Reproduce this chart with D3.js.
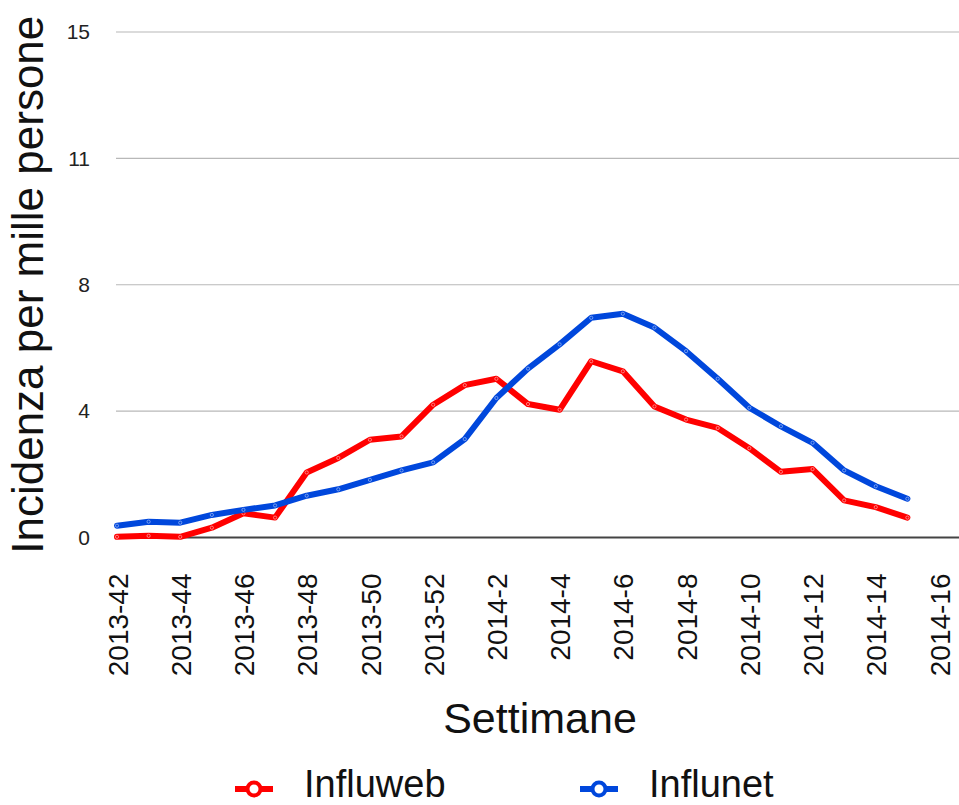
<!DOCTYPE html>
<html>
<head>
<meta charset="utf-8">
<script src="https://cdn.jsdelivr.net/npm/d3@7"></script>
<style>
	body { margin: 0; background: #fff; }
	svg { display: block; font-family: 'Liberation Sans', Arial, Helvetica, sans-serif; }
</style>
</head>
<body>
<svg id="chart" width="959" height="805"></svg>
<script>
'use strict'

var weeks = ['2013-42','2013-43','2013-44','2013-45','2013-46','2013-47','2013-48','2013-49','2013-50','2013-51','2013-52',
	'2014-1','2014-2','2014-3','2014-4','2014-5','2014-6','2014-7','2014-8','2014-9','2014-10','2014-11','2014-12',
	'2014-13','2014-14','2014-15','2014-16'];

var tickLabels = ['2013-42','2013-44','2013-46','2013-48','2013-50','2013-52','2014-2','2014-4','2014-6','2014-8',
	'2014-10','2014-12','2014-14','2014-16'];

var yTicks = [0, 3.75, 7.5, 11.25, 15];

var influweb = [0.02, 0.05, 0.02, 0.29, 0.72, 0.59, 1.93, 2.36, 2.90, 3.00, 3.94,
	4.52, 4.71, 3.96, 3.79, 5.23, 4.93, 3.89, 3.50, 3.25, 2.65, 1.95, 2.03, 1.10, 0.90, 0.59];

var influnet = [0.35, 0.47, 0.44, 0.67, 0.82, 0.95, 1.24, 1.43, 1.71, 1.99, 2.23,
	2.92, 4.14, 5.01, 5.73, 6.52, 6.64, 6.23, 5.53, 4.71, 3.85, 3.30, 2.81, 1.99, 1.52, 1.15];

var series = [
	{ name: 'Influweb', values: influweb, color: '#ff0000', light: '#ff9a9a' },
	{ name: 'Influnet', values: influnet, color: '#0047dc', light: '#8fb0f5' }
];

var svg = d3.select('#chart');
var plot = { left: 116, right: 959, top: 32, bottom: 537.5 };

var xScale = d3.scalePoint()
	.domain(weeks)
	.range([117, 939]);

var yScale = d3.scaleLinear()
	.domain([0, 15])
	.range([plot.bottom, plot.top]);

// gridlines
svg.append('g')
	.selectAll('line')
	.data(yTicks.slice(1))
	.enter()
	.append('line')
	.attr('x1', plot.left)
	.attr('x2', plot.right)
	.attr('y1', function(d){ return yScale(d); })
	.attr('y2', function(d){ return yScale(d); })
	.attr('stroke', '#b8b8b8')
	.attr('stroke-width', 1.2);

// y axis labels
var yAxis = d3.axisLeft(yScale)
	.tickValues(yTicks)
	.tickSize(0)
	.tickPadding(0)
	.tickFormat(function(d){ return Math.round(d); });

svg.append('g')
	.attr('transform', 'translate(90,0)')
	.call(yAxis)
	.call(function(g){ g.select('.domain').remove(); })
	.selectAll('text')
	.attr('font-size', 21)
	.attr('font-family', null)
	.attr('fill', '#222');

// x axis
var xAxis = d3.axisBottom(xScale)
	.tickValues(tickLabels)
	.tickSize(0)
	.tickPadding(0);

var gx = svg.append('g')
	.attr('transform', `translate(0, ${plot.bottom})`)
	.call(xAxis);
gx.select('.domain').remove();
gx.selectAll('text')
	.attr('font-size', 28)
	.attr('font-family', null)
	.attr('fill', '#111')
	.attr('text-anchor', 'end')
	.attr('transform', 'rotate(-90)')
	.attr('x', -36)
	.attr('y', 0)
	.attr('dy', '0.36em');

// baseline
svg.append('line')
	.attr('x1', plot.left)
	.attr('x2', plot.right)
	.attr('y1', yScale(0))
	.attr('y2', yScale(0))
	.attr('stroke', '#444')
	.attr('stroke-width', 2.2);

// lines
var line = d3.line()
	.x(function(d, i){ return xScale(weeks[i]); })
	.y(function(d){ return yScale(d); });

for(var s of series){
	svg.append('path')
		.datum(s.values)
		.attr('fill', 'none')
		.attr('stroke', s.color)
		.attr('stroke-width', 6)
		.attr('stroke-linejoin', 'round')
		.attr('stroke-linecap', 'round')
		.attr('d', line);

	svg.append('g')
		.selectAll('circle')
		.data(s.values)
		.enter()
		.append('circle')
		.attr('r', 1.6)
		.attr('fill', 'none')
		.attr('stroke', s.light)
		.attr('stroke-width', 0.8)
		.attr('cx', function(d, i){ return xScale(weeks[i]); })
		.attr('cy', function(d){ return yScale(d); });
}

// axis titles
svg.append('text')
	.attr('transform', `translate(43, ${(plot.top + plot.bottom) / 2}) rotate(-90)`)
	.attr('text-anchor', 'middle')
	.attr('font-size', 44)
	.attr('fill', '#111')
	.text('Incidenza per mille persone');

svg.append('text')
	.attr('x', 540)
	.attr('y', 733)
	.attr('text-anchor', 'middle')
	.attr('font-size', 43)
	.attr('fill', '#111')
	.text('Settimane');

// legend
var legendX = [254, 599];
var legend = svg.append('g')
	.selectAll('g')
	.data(series)
	.enter()
	.append('g')
	.attr('transform', function(d, i){ return `translate(${legendX[i]}, 789)`; });

legend.append('line')
	.attr('x1', -19)
	.attr('x2', 19)
	.attr('stroke', function(d){ return d.color; })
	.attr('stroke-width', 6);

legend.append('circle')
	.attr('r', 6.5)
	.attr('fill', '#fff')
	.attr('stroke', function(d){ return d.color; })
	.attr('stroke-width', 4);

legend.append('text')
	.attr('x', 50)
	.attr('y', 8)
	.attr('font-size', 38)
	.attr('fill', '#111')
	.text(function(d){ return d.name; });
</script>
</body>
</html>
